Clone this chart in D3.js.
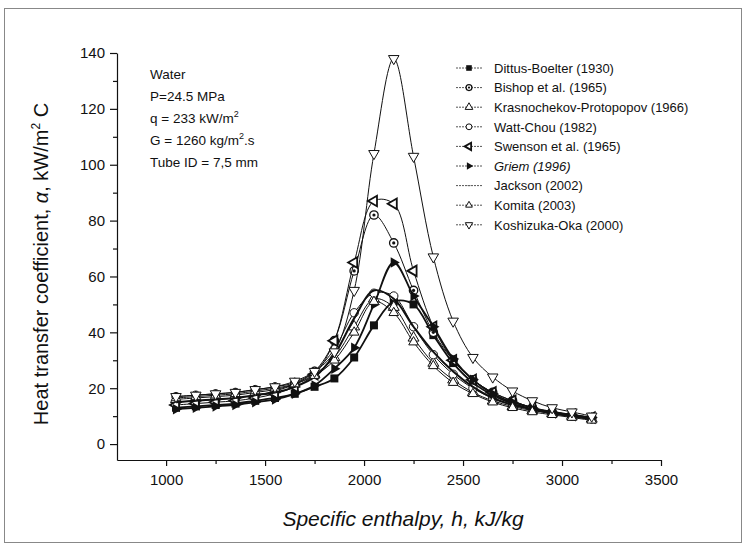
<html>
<style>
  body { margin: 0; background: #fff; }
  text { font-family: "Liberation Sans", Arial, sans-serif; fill: #111; }
  .axis path, .axis line { stroke: #111; stroke-width: 1.2; }
  .axis text { font-size: 15px; }
</style>
<body>
  <svg id="chart"></svg>
</body>
</html>
<script src="https://d3js.org/d3.v7.min.js"></script>
<script type="text/javascript">
  // enthalpy points, kJ/kg
  var enthalpy = [1050,1150,1250,1350,1450,1550,1650,1750,1850,1950,2050,2150,2250,2350,2450,2550,2650,2750,2850,2950,3050,3150];

  // heat transfer coefficient, kW/m2 C
  var dittusBoelter = [13,13.5,14,14.5,15.5,16.5,18,20.5,23.5,31,42.5,51,50,39,29,22,17.5,14.5,12.5,11,10,9];
  var bishop        = [15,15.5,16,16.5,17.5,19,21.5,26,37,62,82,72,55,40,30,23,18.5,15.5,13,11.5,10.5,9.5];
  var krasnochekov  = [16,16.5,17,17.5,18.5,19.5,21.5,25,31,42,52,49,38,29,23,18.5,15.5,13.5,12,11,10,9];
  var wattChou      = [17,17.5,18,18.5,19.5,20.5,22,26,34,47,54,53,42,32,25,20,16.5,14,12.5,11,10,9];
  var swenson       = [14,14.5,15,15.5,16.5,18,20.5,25,37,65,87,86,62,42,30,23,18.5,15.5,13,11.5,10.5,9.5];
  var griem         = [12.5,13,13.5,14,15,16,18,21,27,34.5,50,65,53,42,30.5,23,18,15,13,11.5,10.5,9.5];
  var jackson       = [15,15.5,16,16.5,17.5,18.5,20.5,24,32,45,55,52,42,33,26,20.5,16.5,14,12.5,11,10,9];
  var komita        = [16.5,17,17.5,18,19,20,21.5,24.5,30,40,51,47,36.5,28,22,18,15,13,11.5,10.5,9.5,8.5];
  var koshizukaOka  = [17,17.5,18,18.5,19.5,20.5,22.5,26,33,55,104,138,103,67,44,31,24,19,15.5,13,11.5,10];

  var seriesNames = ["Dittus-Boelter (1930)","Bishop et al. (1965)","Krasnochekov-Protopopov (1966)","Watt-Chou (1982)","Swenson et al. (1965)","Griem (1996)","Jackson (2002)","Komita (2003)","Koshizuka-Oka (2000)"];
  var seriesValues = [dittusBoelter,bishop,krasnochekov,wattChou,swenson,griem,jackson,komita,koshizukaOka];
  var markerKind = ["square","dotcircle","triangle","circle","left","right","none","smalltri","down"];
  var lineWidth = [1.8,1,1,1,1,1.8,2,1,1];

  var xTicks = [1000,1500,2000,2500,3000,3500];
  var xMinor = [1250,1750,2250,2750,3250];
  var yTicks = [0,20,40,60,80,100,120,140];
  var yMinor = [10,30,50,70,90,110,130];

  var notes = ["Water","P=24.5 MPa","q = 233 kW/m|2|","G = 1260 kg/m|2|.s","Tube ID = 7,5 mm"];

  var W = 746, H = 545;
  var svg = d3.select("#chart").attr("width", W).attr("height", H);

  svg.append("rect")
    .attr("x", 4.5).attr("y", 8.5).attr("width", 737).attr("height", 534)
    .attr("fill", "none").attr("stroke", "#888").attr("stroke-width", 1);

  var x = d3.scaleLinear().domain([752, 3500]).range([117, 661]);
  var y = d3.scaleLinear().domain([-5.7, 140]).range([460, 53]);

  // axes
  svg.append("g").attr("class", "axis").attr("transform", "translate(0,460)")
    .call(d3.axisBottom(x).tickValues(xTicks).tickSize(6).tickSizeOuter(0).tickPadding(8).tickFormat(d3.format("d")));
  svg.append("g").attr("class", "axis").attr("transform", "translate(0,460)")
    .call(d3.axisBottom(x).tickValues(xMinor).tickSize(4).tickSizeOuter(0).tickFormat(""))
    .select(".domain").remove();
  svg.append("g").attr("class", "axis").attr("transform", "translate(117,0)")
    .call(d3.axisLeft(y).tickValues(yTicks).tickSize(7).tickSizeOuter(0).tickPadding(5));
  svg.append("g").attr("class", "axis").attr("transform", "translate(117,0)")
    .call(d3.axisLeft(y).tickValues(yMinor).tickSize(4).tickSizeOuter(0).tickFormat(""))
    .select(".domain").remove();

  // axis titles
  var yt = svg.append("text")
    .attr("transform", "translate(48,264) rotate(-90)")
    .attr("text-anchor", "middle").style("font-size", "20px");
  yt.append("tspan").text("Heat transfer coefficient, ");
  yt.append("tspan").style("font-style", "italic").text("α");
  yt.append("tspan").text(", kW/m");
  yt.append("tspan").attr("dy", -8).style("font-size", "12px").text("2");
  yt.append("tspan").attr("dy", 8).text(" C");

  svg.append("text")
    .attr("x", 403).attr("y", 526)
    .attr("text-anchor", "middle")
    .style("font-size", "21px").style("font-style", "italic")
    .text("Specific enthalpy, h, kJ/kg");

  // notes
  notes.forEach(function(s, i) {
    var t = svg.append("text").attr("x", 150).attr("y", 79 + i * 22).style("font-size", "13.5px");
    var parts = s.split("|");
    t.append("tspan").text(parts[0]);
    if (parts.length > 1) {
      t.append("tspan").attr("dy", -6).style("font-size", "9px").text(parts[1]);
      t.append("tspan").attr("dy", 6).text(parts[2]);
    }
  });

  function drawMarker(g, kind, cx, cy, s) {
    var tri = d3.symbol().type(d3.symbolTriangle).size(48 * s * s);
    var pos = "translate(" + cx + "," + cy + ")";
    if (kind == "square") {
      g.append("rect").attr("x", cx - 4 * s).attr("y", cy - 4 * s).attr("width", 8 * s).attr("height", 8 * s)
        .attr("fill", "#111");
    } else if (kind == "dotcircle") {
      g.append("circle").attr("cx", cx).attr("cy", cy).attr("r", 4.2 * s)
        .attr("fill", "#fff").attr("stroke", "#111").attr("stroke-width", 1.3);
      g.append("circle").attr("cx", cx).attr("cy", cy).attr("r", 1.6 * s).attr("fill", "#111");
    } else if (kind == "circle") {
      g.append("circle").attr("cx", cx).attr("cy", cy).attr("r", 4.2 * s)
        .attr("fill", "#fff").attr("stroke", "#111").attr("stroke-width", 1);
    } else if (kind == "triangle" || kind == "smalltri") {
      g.append("path").attr("d", d3.symbol().type(d3.symbolTriangle).size((kind == "triangle" ? 52 : 40) * s * s)())
        .attr("transform", pos)
        .attr("fill", "#fff").attr("stroke", "#111").attr("stroke-width", 1);
    } else if (kind == "down") {
      g.append("path").attr("d", tri())
        .attr("transform", pos + " rotate(180)")
        .attr("fill", "#fff").attr("stroke", "#111").attr("stroke-width", 1);
    } else if (kind == "left") {
      g.append("path").attr("d", tri())
        .attr("transform", pos + " rotate(-90)")
        .attr("fill", "#fff").attr("stroke", "#111").attr("stroke-width", 1.8);
    } else if (kind == "right") {
      g.append("path").attr("d", tri())
        .attr("transform", pos + " rotate(90)")
        .attr("fill", "#111");
    } else if (kind == "none") {
      g.append("line").attr("x1", cx - 1.5).attr("x2", cx + 1.5).attr("y1", cy).attr("y2", cy)
        .attr("stroke", "#666").attr("stroke-width", 1);
    }
  }

  var line = d3.line()
    .x(function(d) { return x(d[0]); })
    .y(function(d) { return y(d[1]); })
    .curve(d3.curveCatmullRom.alpha(0.5));

  // series
  seriesValues.forEach(function(vals, i) {
    var pts = enthalpy.map(function(h, j) { return [h, vals[j]]; });
    var g = svg.append("g");
    g.append("path").datum(pts).attr("d", line)
      .attr("fill", "none").attr("stroke", "#111").attr("stroke-width", lineWidth[i]);
    if (markerKind[i] != "none") {
      pts.forEach(function(p) { drawMarker(g, markerKind[i], x(p[0]), y(p[1]), 1); });
    }
  });

  // legend
  var lg = svg.append("g");
  seriesNames.forEach(function(name, i) {
    var cy = 68 + i * 19.6;
    lg.append("line").attr("x1", 456).attr("x2", 482).attr("y1", cy).attr("y2", cy)
      .attr("stroke", "#555").attr("stroke-width", 1).attr("stroke-dasharray", "2,1");
    drawMarker(lg, markerKind[i], 469, cy, 0.7);
    lg.append("text").attr("x", 494).attr("y", cy + 4.8)
      .style("font-size", "13px")
      .style("font-style", name.indexOf("Griem") == 0 ? "italic" : "normal")
      .text(name);
  });
</script>
